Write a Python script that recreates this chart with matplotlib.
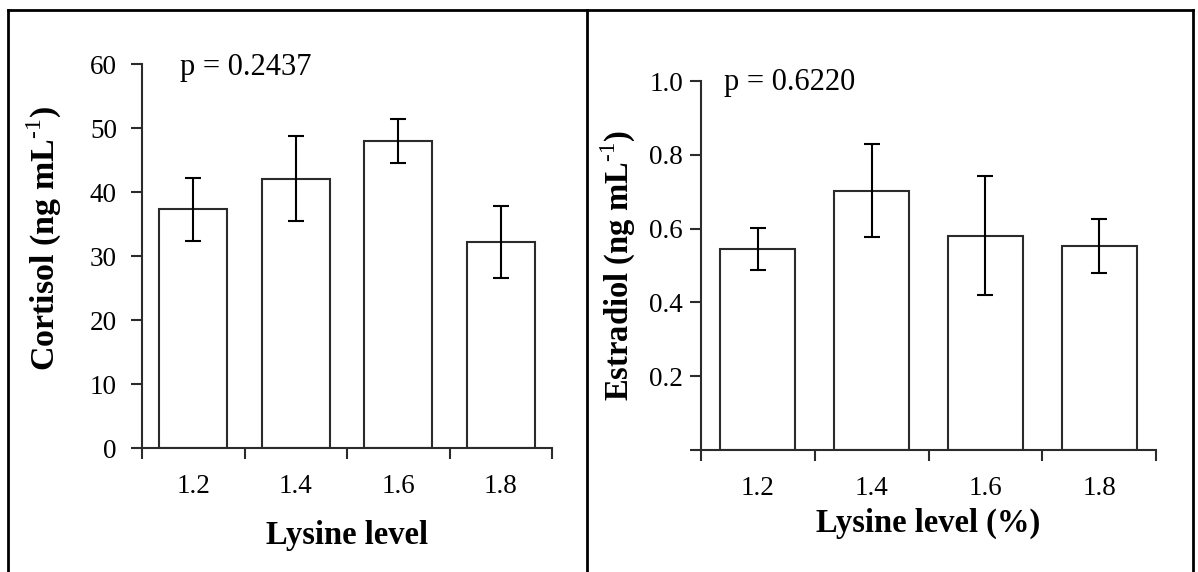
import matplotlib
matplotlib.use('Agg')
import matplotlib.pyplot as plt
import numpy as np
from matplotlib.lines import Line2D
from matplotlib.ticker import FormatStrFormatter

plt.rcParams['font.family'] = ['Liberation Serif', 'DejaVu Serif']
plt.rcParams['mathtext.fontset'] = 'custom'
plt.rcParams['mathtext.rm'] = 'Liberation Serif'
plt.rcParams['mathtext.bf'] = 'Liberation Serif:bold'

# data
lysine = ['1.2', '1.4', '1.6', '1.8']
cortisol = [37.3, 42.1, 48.0, 32.2]
cortisol_err = [4.9, 6.6, 3.4, 5.6]
estradiol = [0.544, 0.703, 0.581, 0.553]
estradiol_err = [0.057, 0.126, 0.162, 0.072]

W, H = 1198, 572
fig = plt.figure(figsize=(W / 100, H / 100), dpi=100)

line_col = '#2b2b2b'


def draw_panel(rect, vals, errs, ymax, yticks, fmt, ylabel, xlabel, ptext,
               ylab_xy, xlab_xy, p_xy, ylab_pad, ylab_size):
    ax = fig.add_axes(rect)
    x = np.arange(len(lysine))
    ax.bar(x, vals, width=0.66, color='white', edgecolor=line_col, linewidth=1.5)
    ax.errorbar(x, vals, yerr=errs, fmt='none', ecolor='black', elinewidth=1.5,
                capsize=6, capthick=1.5)
    ax.set_xlim(-0.5, len(lysine) - 0.5)
    ax.set_ylim(0, ymax)
    for s in ['top', 'right']:
        ax.spines[s].set_visible(False)
    for s in ['left', 'bottom']:
        ax.spines[s].set_color(line_col)
        ax.spines[s].set_linewidth(1.5)
    # category boundaries as major ticks, labels at centres via minor ticks
    ax.set_xticks(np.arange(-0.5, len(lysine), 1.0))
    ax.set_xticklabels([])
    ax.set_xticks(x, minor=True)
    ax.set_xticklabels(lysine, minor=True)
    ax.tick_params(axis='x', which='major', direction='out', length=8, width=1.5,
                   color=line_col)
    ax.tick_params(axis='x', which='minor', length=0, pad=19, labelsize=19.5)
    ax.set_yticks(yticks)
    ax.yaxis.set_major_formatter(FormatStrFormatter(fmt))
    ax.tick_params(axis='y', direction='out', length=8, width=1.5, color=line_col,
                   labelsize=19.5, pad=ylab_pad)
    ax.set_ylabel(ylabel, fontsize=ylab_size, fontweight='bold')
    ax.yaxis.set_label_coords(*ylab_xy)
    ax.yaxis.label.set_verticalalignment('center')
    ax.set_xlabel(xlabel, fontsize=23.5, fontweight='bold')
    ax.xaxis.set_label_coords(*xlab_xy)
    ax.xaxis.label.set_verticalalignment('center')
    ax.text(p_xy[0], p_xy[1], ptext, transform=ax.transAxes, fontsize=22,
            ha='left', va='center')
    return ax


ax1 = draw_panel([142 / W, 124 / H, 410 / W, 384 / H], cortisol, cortisol_err,
                 60, np.arange(0, 61, 10), '%d',
                 r'Cortisol (ng mL$^{\text{-1}}$)', 'Lysine level', 'p = 0.2437',
                 (-0.237, 0.545), (0.5, -0.229), (0.093, 0.992), 10, 24.5)

ax2 = draw_panel([701 / W, 122 / H, 455 / W, 369 / H], estradiol, estradiol_err,
                 1.0, [0.0, 0.2, 0.4, 0.6, 0.8, 1.0], '%.1f',
                 r'Estradiol (ng mL$^{\text{-1}}$)', 'Lysine level (%)', 'p = 0.6220',
                 (-0.182, 0.5), (0.5, -0.2), (0.05, 0.995), 5, 23.5)
labels = ax2.get_yticklabels()
labels[0].set_visible(False)

# table frame around the two panels
frame = [((8, 8), (10, H)), ((8, 1193), (10, 10)), ((587, 587), (10, H)),
         ((1193, 1193), (10, H))]
for xs, ys in frame:
    fig.add_artist(Line2D([v / W for v in xs], [1 - v / H for v in ys],
                          transform=fig.transFigure, color='black', linewidth=2))

fig.savefig('out.png', dpi=100, facecolor='white')
